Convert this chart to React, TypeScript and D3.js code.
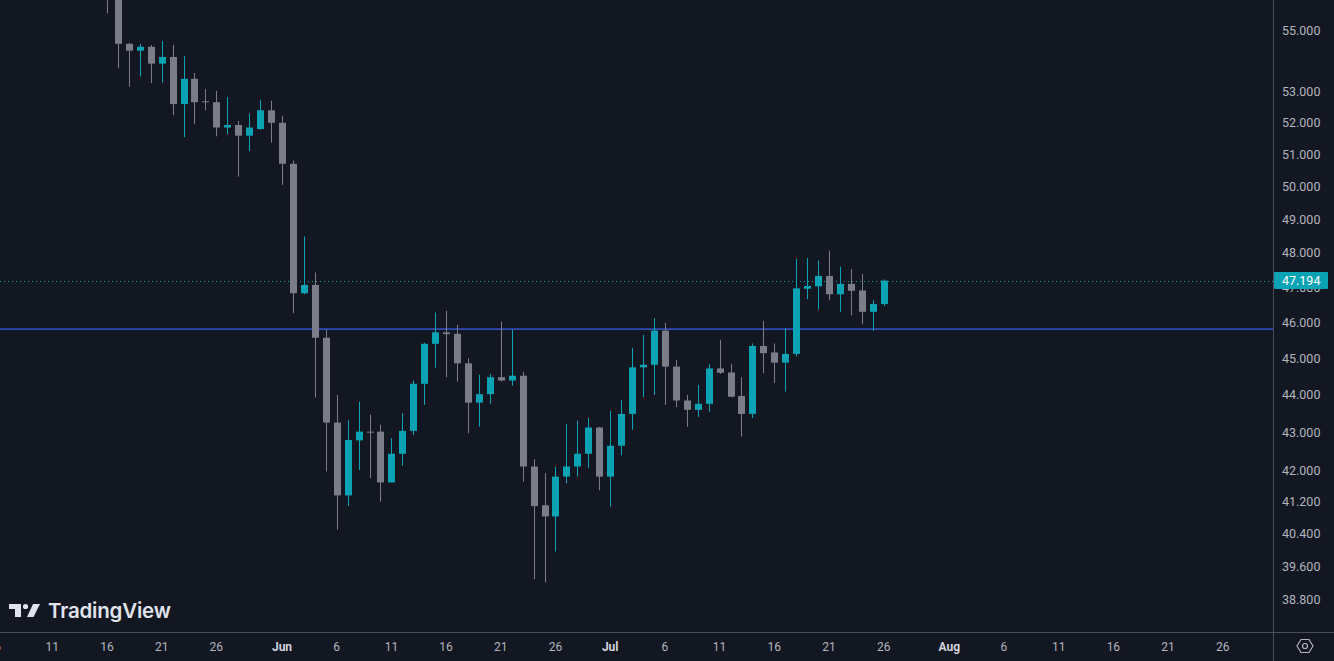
import * as d3 from 'd3';
import { useEffect, useRef } from 'react';

// daily candles, 16 May -> 26 Jul
const startDay = '2024-05-16';
const opens = [
  57.2, 56.4, 54.57, 54.34, 54.47, 53.91, 54.13, 52.59, 53.41, 52.68, 52.65, 51.84, 51.92, 51.58, 51.79, 52.39,
  51.99, 50.7, 46.83, 47.07, 45.57, 43.26, 41.37, 42.79, 43.02, 43.02, 41.7, 42.44, 43.04, 44.3, 45.4, 45.72,
  45.68, 44.86, 43.79, 44.02, 44.48, 44.39, 44.52, 42.11, 41.12, 40.84, 41.85, 42.11, 42.44, 43.13,
  41.85, 42.65, 43.49, 44.75, 44.82, 45.77, 44.77, 43.85, 43.6, 43.76, 44.72, 44.61, 43.97, 43.49, 45.34, 45.16,
  44.88, 45.12, 46.96, 47.03, 47.33, 46.8, 47.1, 46.91, 46.3, 46.52,
];
const highs = [
  57.6, 56.6, 54.6, 54.57, 54.53, 54.66, 54.53, 54.16, 53.6, 53.08, 53.02, 52.82, 52.05, 52.29, 52.73, 52.7,
  52.21, 50.8, 48.49, 47.43, 45.79, 44.0, 43.33, 43.82, 43.47, 43.2, 42.85, 43.51, 44.39, 45.43, 46.28, 46.33,
  45.93, 45.0, 44.55, 44.57, 46.02, 45.79, 44.63, 42.3, 41.94, 42.1, 43.23, 43.31, 43.38, 43.15,
  43.57, 43.87, 45.29, 45.65, 46.12, 45.99, 44.95, 44.0, 44.27, 44.84, 45.51, 44.85, 44.48, 45.41, 46.04, 45.41,
  45.83, 47.83, 47.85, 47.78, 48.07, 47.6, 47.53, 47.39, 46.63, 47.23,
];
const lows = [
  55.6, 53.76, 53.15, 53.49, 53.27, 53.29, 52.24, 51.53, 51.95, 52.39, 51.56, 51.62, 50.3, 51.1, 51.77, 51.36,
  50.05, 46.26, 46.8, 43.93, 41.98, 40.51, 41.1, 42.02, 41.81, 41.21, 41.7, 42.13, 42.93, 43.73, 44.74, 44.48,
  44.36, 42.98, 43.15, 43.76, 44.36, 44.25, 41.72, 39.3, 39.22, 39.97, 41.68, 41.85, 42.07, 41.5,
  41.09, 42.4, 43.07, 43.94, 44.0, 43.73, 43.67, 43.15, 43.41, 43.55, 44.57, 43.94, 42.89, 43.38, 44.59, 44.32,
  44.09, 45.05, 46.66, 46.37, 46.63, 46.3, 46.2, 45.95, 45.76, 46.47,
];
const closes = [
  56.4, 54.57, 54.34, 54.47, 53.91, 54.13, 52.59, 53.41, 52.65, 52.65, 51.84, 51.92, 51.58, 51.84, 52.39, 51.99,
  50.7, 46.83, 47.07, 45.57, 43.26, 41.37, 42.8, 43.02, 43.0, 41.7, 42.44, 43.04, 44.3, 45.4, 45.72, 45.67,
  44.86, 43.79, 44.02, 44.48, 44.39, 44.52, 42.11, 41.1, 40.84, 41.85, 42.11, 42.44, 43.13, 41.85,
  42.65, 43.49, 44.75, 44.82, 45.77, 44.77, 43.85, 43.6, 43.76, 44.72, 44.6, 43.95, 43.49, 45.34, 45.14, 44.88,
  45.12, 46.97, 47.04, 47.33, 46.8, 47.1, 46.9, 46.3, 46.52, 47.194,
];

const priceTicks = [55, 53, 52, 51, 50, 49, 48, 47, 46, 45, 44, 43, 42, 41.2, 40.4, 39.6, 38.8];
const timeTicks = [
  '2024-05-06', '2024-05-11', '2024-05-16', '2024-05-21', '2024-05-26', '2024-06-01', '2024-06-06',
  '2024-06-11', '2024-06-16', '2024-06-21', '2024-06-26', '2024-07-01', '2024-07-06', '2024-07-11',
  '2024-07-16', '2024-07-21', '2024-07-26', '2024-08-01', '2024-08-06', '2024-08-11', '2024-08-16',
  '2024-08-21', '2024-08-26',
];
const lastPrice = 47.194;
const levelPrice = 45.81;

export default function App() {
  const ref = useRef<SVGSVGElement | null>(null);

  useEffect(() => {
    if (!ref.current) return;

    const width = 1334;
    const height = 661;
    const plotRight = 1273;
    const plotBottom = 632;

    const bg = '#131722';
    const up = '#0aa3b3';
    const down = '#7b7d88';
    const text = '#b2b5be';
    const border = '#4a4e59';
    const font = 'Roboto, "Noto Sans", sans-serif';

    const svg = d3.select(ref.current).attr('viewBox', `0 0 ${width} ${height}`);
    svg.selectAll('*').remove();

    svg.append('rect').attr('width', width).attr('height', height).attr('fill', bg);

    /* ================= SCALES ================= */

    const parse = d3.utcParse('%Y-%m-%d');
    const x = d3
      .scaleUtc()
      .domain([parse('2024-06-01')!, parse('2024-08-01')!])
      .range([282, 949.3]);

    const y = d3.scaleLog().domain([38.8, 55]).range([600, 31]);

    const start = parse(startDay)!;
    const candles = closes.map((c, i) => ({
      date: d3.utcDay.offset(start, i),
      o: opens[i],
      h: highs[i],
      l: lows[i],
      c,
    }));

    svg
      .append('clipPath')
      .attr('id', 'plot')
      .append('rect')
      .attr('width', plotRight)
      .attr('height', plotBottom);

    const plot = svg.append('g').attr('clip-path', 'url(#plot)');

    /* ================= LEVELS ================= */

    plot
      .append('line')
      .attr('x1', 0)
      .attr('x2', plotRight)
      .attr('y1', y(levelPrice))
      .attr('y2', y(levelPrice))
      .attr('stroke', '#2f4cb5')
      .attr('stroke-width', 1.6);

    plot
      .append('line')
      .attr('x1', 0)
      .attr('x2', plotRight)
      .attr('y1', Math.round(y(lastPrice)) + 0.5)
      .attr('y2', Math.round(y(lastPrice)) + 0.5)
      .attr('stroke', up)
      .attr('stroke-dasharray', '1 3');

    /* ================= CANDLES ================= */

    const bodyW = 7;
    const g = plot.selectAll('g.candle').data(candles).enter().append('g');

    g.append('line')
      .attr('x1', (d) => Math.round(x(d.date)) + 0.5)
      .attr('x2', (d) => Math.round(x(d.date)) + 0.5)
      .attr('y1', (d) => y(d.h))
      .attr('y2', (d) => y(d.l))
      .attr('stroke', (d) => (d.c >= d.o ? up : down))
      .attr('stroke-width', 1);

    g.append('rect')
      .attr('x', (d) => Math.round(x(d.date)) + 0.5 - bodyW / 2)
      .attr('width', bodyW)
      .attr('y', (d) => y(Math.max(d.o, d.c)))
      .attr('height', (d) => Math.max(1, Math.abs(y(d.o) - y(d.c))))
      .attr('fill', (d) => (d.c >= d.o ? up : down));

    /* ================= AXES ================= */

    svg
      .append('line')
      .attr('x1', plotRight + 0.5)
      .attr('x2', plotRight + 0.5)
      .attr('y1', 0)
      .attr('y2', height)
      .attr('stroke', border);

    svg
      .append('line')
      .attr('x1', 0)
      .attr('x2', width)
      .attr('y1', plotBottom + 0.5)
      .attr('y2', plotBottom + 0.5)
      .attr('stroke', border);

    svg
      .append('g')
      .selectAll('text')
      .data(priceTicks)
      .enter()
      .append('text')
      .attr('x', 1282)
      .attr('y', (d) => y(d))
      .attr('dy', '0.35em')
      .attr('fill', text)
      .attr('font-family', font)
      .attr('font-size', 12.5)
      .text((d) => d3.format('.3f')(d));

    const fmtTime = (d: Date) =>
      d.getUTCDate() === 1 ? d3.utcFormat('%b')(d) : String(d.getUTCDate());

    svg
      .append('g')
      .selectAll('text')
      .data(timeTicks.map((t) => parse(t)!))
      .enter()
      .append('text')
      .attr('x', (d) => x(d))
      .attr('y', 647)
      .attr('dy', '0.35em')
      .attr('text-anchor', 'middle')
      .attr('fill', (d) => (d.getUTCDate() === 1 ? '#d1d4dc' : text))
      .attr('font-weight', (d) => (d.getUTCDate() === 1 ? 'bold' : 'normal'))
      .attr('font-family', font)
      .attr('font-size', 12)
      .text(fmtTime);

    /* ================= LAST PRICE LABEL ================= */

    const ly = y(lastPrice);
    svg
      .append('rect')
      .attr('x', plotRight + 1)
      .attr('y', ly - 8.5)
      .attr('width', 54)
      .attr('height', 17)
      .attr('rx', 1)
      .attr('fill', up);

    svg
      .append('text')
      .attr('x', 1282)
      .attr('y', ly)
      .attr('dy', '0.35em')
      .attr('fill', '#ffffff')
      .attr('font-family', font)
      .attr('font-size', 12.5)
      .text(d3.format('.3f')(lastPrice));

    /* ================= SETTINGS ICON ================= */

    const cx = 1305;
    const cy = 646;
    const hex = d3.range(6).map((i) => {
      const a = (Math.PI / 3) * i;
      return [cx + 8 * Math.cos(a), cy + 7.5 * Math.sin(a)] as [number, number];
    });
    svg
      .append('path')
      .attr('d', d3.line()(hex)! + 'Z')
      .attr('fill', 'none')
      .attr('stroke', text)
      .attr('stroke-width', 1.2);
    svg
      .append('circle')
      .attr('cx', cx)
      .attr('cy', cy)
      .attr('r', 2.5)
      .attr('fill', 'none')
      .attr('stroke', text)
      .attr('stroke-width', 1.2);

    /* ================= LOGO ================= */

    const logo = svg.append('g').attr('fill', '#e0e3eb');
    logo.append('path').attr('d', 'M9,604 H21 V617 H15 V609 H9 Z');
    logo.append('circle').attr('cx', 25.5).attr('cy', 606.5).attr('r', 2.6);
    logo.append('path').attr('d', 'M33,604 H40 L33.5,617 H27 Z');
    logo
      .append('text')
      .attr('x', 48)
      .attr('y', 618)
      .attr('font-family', 'Inter, Roboto, sans-serif')
      .attr('font-weight', 600)
      .attr('font-size', 20.5)
      .attr('letter-spacing', -0.2)
      .text('TradingView');
  }, []);

  return (
    <svg
      ref={ref}
      width={1334}
      height={661}
      style={{ position: 'absolute', left: 0, top: 0, display: 'block' }}
    />
  );
}
